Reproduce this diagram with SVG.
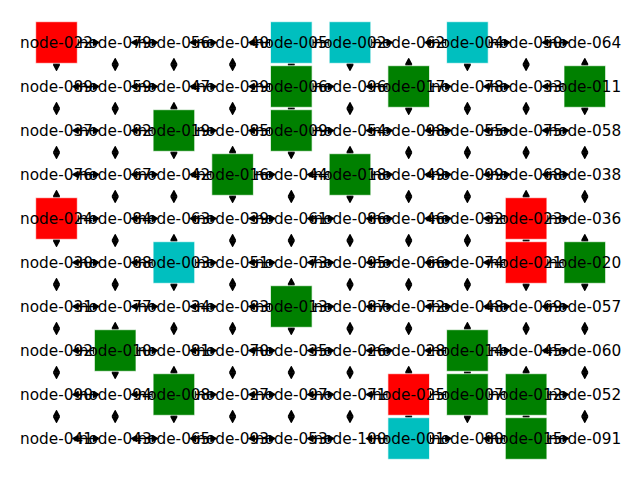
<svg xmlns="http://www.w3.org/2000/svg" width="640" height="480" viewBox="0 0 640 480">
<style>
.e line{stroke:#000;stroke-width:1.4;marker-start:url(#a);marker-end:url(#a)}
.n text{font-family:"DejaVu Sans",sans-serif;font-size:15.3px;text-anchor:middle;fill:#000}
.n rect{x:-20.8px;y:-20.8px;width:41.6px;height:41.6px;stroke:#fff;stroke-opacity:0.7;stroke-width:1}
.r{fill:#ff0000}.g{fill:#008000}.c{fill:#00bfbf}
</style>
<defs>
<marker id="a" markerUnits="userSpaceOnUse" markerWidth="8" markerHeight="8" viewBox="-1 -4 8 8" refX="0" refY="0" orient="auto-start-reverse" overflow="visible"><path d="M0,-2.8 L5.4,0 L0,2.8 z" fill="#000" stroke="#000" stroke-width="1.4" stroke-linejoin="round"/></marker>
</defs>
<rect width="640" height="480" fill="#fff"/>
<g id="connectors" class="e">
<g transform="translate(0,42.5)"><line x1="78.1" x2="93.6"/><line x1="136.8" x2="152.3"/><line x1="195.5" x2="211"/><line x1="254.2" x2="269.7"/><line x1="312.9" x2="328.4"/><line x1="371.6" x2="387.1"/><line x1="430.3" x2="445.8"/><line x1="489" x2="504.5"/><line x1="547.7" x2="563.2"/></g>
<g transform="translate(0,86.5)"><line x1="78.1" x2="93.6"/><line x1="136.8" x2="152.3"/><line x1="195.5" x2="211"/><line x1="254.2" x2="269.7"/><line x1="312.9" x2="328.4"/><line x1="371.6" x2="387.1"/><line x1="430.3" x2="445.8"/><line x1="489" x2="504.5"/><line x1="547.7" x2="563.2"/></g>
<g transform="translate(0,130.5)"><line x1="78.1" x2="93.6"/><line x1="136.8" x2="152.3"/><line x1="195.5" x2="211"/><line x1="254.2" x2="269.7"/><line x1="312.9" x2="328.4"/><line x1="371.6" x2="387.1"/><line x1="430.3" x2="445.8"/><line x1="489" x2="504.5"/><line x1="547.7" x2="563.2"/></g>
<g transform="translate(0,174.5)"><line x1="78.1" x2="93.6"/><line x1="136.8" x2="152.3"/><line x1="195.5" x2="211"/><line x1="254.2" x2="269.7"/><line x1="312.9" x2="328.4"/><line x1="371.6" x2="387.1"/><line x1="430.3" x2="445.8"/><line x1="489" x2="504.5"/><line x1="547.7" x2="563.2"/></g>
<g transform="translate(0,218.5)"><line x1="78.1" x2="93.6"/><line x1="136.8" x2="152.3"/><line x1="195.5" x2="211"/><line x1="254.2" x2="269.7"/><line x1="312.9" x2="328.4"/><line x1="371.6" x2="387.1"/><line x1="430.3" x2="445.8"/><line x1="489" x2="504.5"/><line x1="547.7" x2="563.2"/></g>
<g transform="translate(0,262.5)"><line x1="78.1" x2="93.6"/><line x1="136.8" x2="152.3"/><line x1="195.5" x2="211"/><line x1="254.2" x2="269.7"/><line x1="312.9" x2="328.4"/><line x1="371.6" x2="387.1"/><line x1="430.3" x2="445.8"/><line x1="489" x2="504.5"/><line x1="547.7" x2="563.2"/></g>
<g transform="translate(0,306.5)"><line x1="78.1" x2="93.6"/><line x1="136.8" x2="152.3"/><line x1="195.5" x2="211"/><line x1="254.2" x2="269.7"/><line x1="312.9" x2="328.4"/><line x1="371.6" x2="387.1"/><line x1="430.3" x2="445.8"/><line x1="489" x2="504.5"/><line x1="547.7" x2="563.2"/></g>
<g transform="translate(0,350.5)"><line x1="78.1" x2="93.6"/><line x1="136.8" x2="152.3"/><line x1="195.5" x2="211"/><line x1="254.2" x2="269.7"/><line x1="312.9" x2="328.4"/><line x1="371.6" x2="387.1"/><line x1="430.3" x2="445.8"/><line x1="489" x2="504.5"/><line x1="547.7" x2="563.2"/></g>
<g transform="translate(0,394.5)"><line x1="78.1" x2="93.6"/><line x1="136.8" x2="152.3"/><line x1="195.5" x2="211"/><line x1="254.2" x2="269.7"/><line x1="312.9" x2="328.4"/><line x1="371.6" x2="387.1"/><line x1="430.3" x2="445.8"/><line x1="489" x2="504.5"/><line x1="547.7" x2="563.2"/></g>
<g transform="translate(0,438.5)"><line x1="78.1" x2="93.6"/><line x1="136.8" x2="152.3"/><line x1="195.5" x2="211"/><line x1="254.2" x2="269.7"/><line x1="312.9" x2="328.4"/><line x1="371.6" x2="387.1"/><line x1="430.3" x2="445.8"/><line x1="489" x2="504.5"/><line x1="547.7" x2="563.2"/></g>
<g transform="translate(56.5,0)"><line y1="64.1" y2="64.9"/><line y1="108.1" y2="108.9"/><line y1="152.1" y2="152.9"/><line y1="196.1" y2="196.9"/><line y1="240.1" y2="240.9"/><line y1="284.1" y2="284.9"/><line y1="328.1" y2="328.9"/><line y1="372.1" y2="372.9"/><line y1="416.1" y2="416.9"/></g>
<g transform="translate(115.2,0)"><line y1="64.1" y2="64.9"/><line y1="108.1" y2="108.9"/><line y1="152.1" y2="152.9"/><line y1="196.1" y2="196.9"/><line y1="240.1" y2="240.9"/><line y1="284.1" y2="284.9"/><line y1="328.1" y2="328.9"/><line y1="372.1" y2="372.9"/><line y1="416.1" y2="416.9"/></g>
<g transform="translate(173.9,0)"><line y1="64.1" y2="64.9"/><line y1="108.1" y2="108.9"/><line y1="152.1" y2="152.9"/><line y1="196.1" y2="196.9"/><line y1="240.1" y2="240.9"/><line y1="284.1" y2="284.9"/><line y1="328.1" y2="328.9"/><line y1="372.1" y2="372.9"/><line y1="416.1" y2="416.9"/></g>
<g transform="translate(232.6,0)"><line y1="64.1" y2="64.9"/><line y1="108.1" y2="108.9"/><line y1="152.1" y2="152.9"/><line y1="196.1" y2="196.9"/><line y1="240.1" y2="240.9"/><line y1="284.1" y2="284.9"/><line y1="328.1" y2="328.9"/><line y1="372.1" y2="372.9"/><line y1="416.1" y2="416.9"/></g>
<g transform="translate(291.3,0)"><line y1="64.1" y2="64.9"/><line y1="108.1" y2="108.9"/><line y1="152.1" y2="152.9"/><line y1="196.1" y2="196.9"/><line y1="240.1" y2="240.9"/><line y1="284.1" y2="284.9"/><line y1="328.1" y2="328.9"/><line y1="372.1" y2="372.9"/><line y1="416.1" y2="416.9"/></g>
<g transform="translate(350,0)"><line y1="64.1" y2="64.9"/><line y1="108.1" y2="108.9"/><line y1="152.1" y2="152.9"/><line y1="196.1" y2="196.9"/><line y1="240.1" y2="240.9"/><line y1="284.1" y2="284.9"/><line y1="328.1" y2="328.9"/><line y1="372.1" y2="372.9"/><line y1="416.1" y2="416.9"/></g>
<g transform="translate(408.7,0)"><line y1="64.1" y2="64.9"/><line y1="108.1" y2="108.9"/><line y1="152.1" y2="152.9"/><line y1="196.1" y2="196.9"/><line y1="240.1" y2="240.9"/><line y1="284.1" y2="284.9"/><line y1="328.1" y2="328.9"/><line y1="372.1" y2="372.9"/><line y1="416.1" y2="416.9"/></g>
<g transform="translate(467.4,0)"><line y1="64.1" y2="64.9"/><line y1="108.1" y2="108.9"/><line y1="152.1" y2="152.9"/><line y1="196.1" y2="196.9"/><line y1="240.1" y2="240.9"/><line y1="284.1" y2="284.9"/><line y1="328.1" y2="328.9"/><line y1="372.1" y2="372.9"/><line y1="416.1" y2="416.9"/></g>
<g transform="translate(526.1,0)"><line y1="64.1" y2="64.9"/><line y1="108.1" y2="108.9"/><line y1="152.1" y2="152.9"/><line y1="196.1" y2="196.9"/><line y1="240.1" y2="240.9"/><line y1="284.1" y2="284.9"/><line y1="328.1" y2="328.9"/><line y1="372.1" y2="372.9"/><line y1="416.1" y2="416.9"/></g>
<g transform="translate(584.8,0)"><line y1="64.1" y2="64.9"/><line y1="108.1" y2="108.9"/><line y1="152.1" y2="152.9"/><line y1="196.1" y2="196.9"/><line y1="240.1" y2="240.9"/><line y1="284.1" y2="284.9"/><line y1="328.1" y2="328.9"/><line y1="372.1" y2="372.9"/><line y1="416.1" y2="416.9"/></g>
</g>
<g id="nodes" class="n">
<g id="node-022" transform="translate(56.5,42.5)"><rect class="r"/><text y="5">node-022</text></g>
<g id="node-079" transform="translate(115.2,42.5)"><text y="5">node-079</text></g>
<g id="node-056" transform="translate(173.9,42.5)"><text y="5">node-056</text></g>
<g id="node-040" transform="translate(232.6,42.5)"><text y="5">node-040</text></g>
<g id="node-005" transform="translate(291.3,42.5)"><rect class="c"/><text y="5">node-005</text></g>
<g id="node-002" transform="translate(350,42.5)"><rect class="c"/><text y="5">node-002</text></g>
<g id="node-062" transform="translate(408.7,42.5)"><text y="5">node-062</text></g>
<g id="node-004" transform="translate(467.4,42.5)"><rect class="c"/><text y="5">node-004</text></g>
<g id="node-050" transform="translate(526.1,42.5)"><text y="5">node-050</text></g>
<g id="node-064" transform="translate(584.8,42.5)"><text y="5">node-064</text></g>
<g id="node-089" transform="translate(56.5,86.5)"><text y="5">node-089</text></g>
<g id="node-059" transform="translate(115.2,86.5)"><text y="5">node-059</text></g>
<g id="node-047" transform="translate(173.9,86.5)"><text y="5">node-047</text></g>
<g id="node-029" transform="translate(232.6,86.5)"><text y="5">node-029</text></g>
<g id="node-006" transform="translate(291.3,86.5)"><rect class="g"/><text y="5">node-006</text></g>
<g id="node-096" transform="translate(350,86.5)"><text y="5">node-096</text></g>
<g id="node-017" transform="translate(408.7,86.5)"><rect class="g"/><text y="5">node-017</text></g>
<g id="node-078" transform="translate(467.4,86.5)"><text y="5">node-078</text></g>
<g id="node-033" transform="translate(526.1,86.5)"><text y="5">node-033</text></g>
<g id="node-011" transform="translate(584.8,86.5)"><rect class="g"/><text y="5">node-011</text></g>
<g id="node-037" transform="translate(56.5,130.5)"><text y="5">node-037</text></g>
<g id="node-082" transform="translate(115.2,130.5)"><text y="5">node-082</text></g>
<g id="node-019" transform="translate(173.9,130.5)"><rect class="g"/><text y="5">node-019</text></g>
<g id="node-085" transform="translate(232.6,130.5)"><text y="5">node-085</text></g>
<g id="node-009" transform="translate(291.3,130.5)"><rect class="g"/><text y="5">node-009</text></g>
<g id="node-054" transform="translate(350,130.5)"><text y="5">node-054</text></g>
<g id="node-098" transform="translate(408.7,130.5)"><text y="5">node-098</text></g>
<g id="node-055" transform="translate(467.4,130.5)"><text y="5">node-055</text></g>
<g id="node-075" transform="translate(526.1,130.5)"><text y="5">node-075</text></g>
<g id="node-058" transform="translate(584.8,130.5)"><text y="5">node-058</text></g>
<g id="node-076" transform="translate(56.5,174.5)"><text y="5">node-076</text></g>
<g id="node-067" transform="translate(115.2,174.5)"><text y="5">node-067</text></g>
<g id="node-042" transform="translate(173.9,174.5)"><text y="5">node-042</text></g>
<g id="node-016" transform="translate(232.6,174.5)"><rect class="g"/><text y="5">node-016</text></g>
<g id="node-044" transform="translate(291.3,174.5)"><text y="5">node-044</text></g>
<g id="node-018" transform="translate(350,174.5)"><rect class="g"/><text y="5">node-018</text></g>
<g id="node-049" transform="translate(408.7,174.5)"><text y="5">node-049</text></g>
<g id="node-099" transform="translate(467.4,174.5)"><text y="5">node-099</text></g>
<g id="node-068" transform="translate(526.1,174.5)"><text y="5">node-068</text></g>
<g id="node-038" transform="translate(584.8,174.5)"><text y="5">node-038</text></g>
<g id="node-024" transform="translate(56.5,218.5)"><rect class="r"/><text y="5">node-024</text></g>
<g id="node-084" transform="translate(115.2,218.5)"><text y="5">node-084</text></g>
<g id="node-063" transform="translate(173.9,218.5)"><text y="5">node-063</text></g>
<g id="node-039" transform="translate(232.6,218.5)"><text y="5">node-039</text></g>
<g id="node-061" transform="translate(291.3,218.5)"><text y="5">node-061</text></g>
<g id="node-086" transform="translate(350,218.5)"><text y="5">node-086</text></g>
<g id="node-046" transform="translate(408.7,218.5)"><text y="5">node-046</text></g>
<g id="node-032" transform="translate(467.4,218.5)"><text y="5">node-032</text></g>
<g id="node-023" transform="translate(526.1,218.5)"><rect class="r"/><text y="5">node-023</text></g>
<g id="node-036" transform="translate(584.8,218.5)"><text y="5">node-036</text></g>
<g id="node-030" transform="translate(56.5,262.5)"><text y="5">node-030</text></g>
<g id="node-088" transform="translate(115.2,262.5)"><text y="5">node-088</text></g>
<g id="node-003" transform="translate(173.9,262.5)"><rect class="c"/><text y="5">node-003</text></g>
<g id="node-051" transform="translate(232.6,262.5)"><text y="5">node-051</text></g>
<g id="node-073" transform="translate(291.3,262.5)"><text y="5">node-073</text></g>
<g id="node-095" transform="translate(350,262.5)"><text y="5">node-095</text></g>
<g id="node-066" transform="translate(408.7,262.5)"><text y="5">node-066</text></g>
<g id="node-074" transform="translate(467.4,262.5)"><text y="5">node-074</text></g>
<g id="node-021" transform="translate(526.1,262.5)"><rect class="r"/><text y="5">node-021</text></g>
<g id="node-020" transform="translate(584.8,262.5)"><rect class="g"/><text y="5">node-020</text></g>
<g id="node-031" transform="translate(56.5,306.5)"><text y="5">node-031</text></g>
<g id="node-077" transform="translate(115.2,306.5)"><text y="5">node-077</text></g>
<g id="node-034" transform="translate(173.9,306.5)"><text y="5">node-034</text></g>
<g id="node-083" transform="translate(232.6,306.5)"><text y="5">node-083</text></g>
<g id="node-013" transform="translate(291.3,306.5)"><rect class="g"/><text y="5">node-013</text></g>
<g id="node-087" transform="translate(350,306.5)"><text y="5">node-087</text></g>
<g id="node-072" transform="translate(408.7,306.5)"><text y="5">node-072</text></g>
<g id="node-048" transform="translate(467.4,306.5)"><text y="5">node-048</text></g>
<g id="node-069" transform="translate(526.1,306.5)"><text y="5">node-069</text></g>
<g id="node-057" transform="translate(584.8,306.5)"><text y="5">node-057</text></g>
<g id="node-092" transform="translate(56.5,350.5)"><text y="5">node-092</text></g>
<g id="node-010" transform="translate(115.2,350.5)"><rect class="g"/><text y="5">node-010</text></g>
<g id="node-081" transform="translate(173.9,350.5)"><text y="5">node-081</text></g>
<g id="node-070" transform="translate(232.6,350.5)"><text y="5">node-070</text></g>
<g id="node-035" transform="translate(291.3,350.5)"><text y="5">node-035</text></g>
<g id="node-026" transform="translate(350,350.5)"><text y="5">node-026</text></g>
<g id="node-028" transform="translate(408.7,350.5)"><text y="5">node-028</text></g>
<g id="node-014" transform="translate(467.4,350.5)"><rect class="g"/><text y="5">node-014</text></g>
<g id="node-045" transform="translate(526.1,350.5)"><text y="5">node-045</text></g>
<g id="node-060" transform="translate(584.8,350.5)"><text y="5">node-060</text></g>
<g id="node-090" transform="translate(56.5,394.5)"><text y="5">node-090</text></g>
<g id="node-094" transform="translate(115.2,394.5)"><text y="5">node-094</text></g>
<g id="node-008" transform="translate(173.9,394.5)"><rect class="g"/><text y="5">node-008</text></g>
<g id="node-027" transform="translate(232.6,394.5)"><text y="5">node-027</text></g>
<g id="node-097" transform="translate(291.3,394.5)"><text y="5">node-097</text></g>
<g id="node-071" transform="translate(350,394.5)"><text y="5">node-071</text></g>
<g id="node-025" transform="translate(408.7,394.5)"><rect class="r"/><text y="5">node-025</text></g>
<g id="node-007" transform="translate(467.4,394.5)"><rect class="g"/><text y="5">node-007</text></g>
<g id="node-012" transform="translate(526.1,394.5)"><rect class="g"/><text y="5">node-012</text></g>
<g id="node-052" transform="translate(584.8,394.5)"><text y="5">node-052</text></g>
<g id="node-041" transform="translate(56.5,438.5)"><text y="5">node-041</text></g>
<g id="node-043" transform="translate(115.2,438.5)"><text y="5">node-043</text></g>
<g id="node-065" transform="translate(173.9,438.5)"><text y="5">node-065</text></g>
<g id="node-093" transform="translate(232.6,438.5)"><text y="5">node-093</text></g>
<g id="node-053" transform="translate(291.3,438.5)"><text y="5">node-053</text></g>
<g id="node-100" transform="translate(350,438.5)"><text y="5">node-100</text></g>
<g id="node-001" transform="translate(408.7,438.5)"><rect class="c"/><text y="5">node-001</text></g>
<g id="node-080" transform="translate(467.4,438.5)"><text y="5">node-080</text></g>
<g id="node-015" transform="translate(526.1,438.5)"><rect class="g"/><text y="5">node-015</text></g>
<g id="node-091" transform="translate(584.8,438.5)"><text y="5">node-091</text></g>
</g>
</svg>
